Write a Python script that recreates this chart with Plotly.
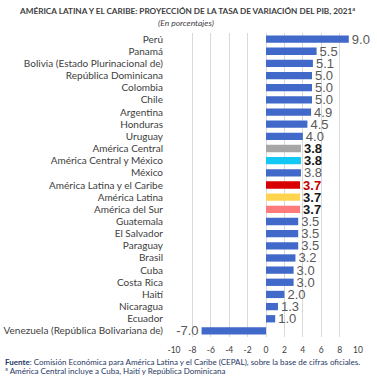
import plotly.graph_objects as go

categories = ["Perú", "Panamá", "Bolivia (Estado Plurinacional de)", "República Dominicana",
              "Colombia", "Chile", "Argentina", "Honduras", "Uruguay", "América Central",
              "América Central y México", "México", "América Latina y el Caribe", "América Latina",
              "América del Sur", "Guatemala", "El Salvador", "Paraguay", "Brasil", "Cuba",
              "Costa Rica", "Haití", "Nicaragua", "Ecuador", "Venezuela (República Bolivariana de)"]
values = [9.0, 5.5, 5.1, 5.0, 5.0, 5.0, 4.9, 4.5, 4.0, 3.8, 3.8, 3.8, 3.7, 3.7, 3.7,
          3.5, 3.5, 3.5, 3.2, 3.0, 3.0, 2.0, 1.3, 1.0, -7.0]
x_ticks = [-10, -8, -6, -4, -2, 0, 2, 4, 6, 8, 10]

BLUE = "#4169C9"
special = {
    "América Central": ("#A6A6A6", "#1a1a1a"),
    "América Central y México": ("#14C8F5", "#1a1a1a"),
    "América Latina y el Caribe": ("#D80000", "#C00000"),
    "América Latina": ("#FFD54F", "#1a1a1a"),
    "América del Sur": ("#FF7B7B", "#1a1a1a"),
}
colors, tcolors, texts = [], [], []
for c, v in zip(categories, values):
    if c in special:
        col, tc = special[c]
        colors.append(col)
        tcolors.append(tc)
        texts.append(f"<b>{v:.1f}</b>")
    else:
        colors.append(BLUE)
        tcolors.append("#595959")
        texts.append(f"{v:.1f}")

W, H = 377, 376
l, r, t, b = 174, 19, 33, 39
pw, ph = W - l - r, H - t - b
def px(x): return (x - l) / pw
def py(y): return (H - b - y) / ph

fig = go.Figure(go.Bar(
    y=categories, x=values, orientation="h",
    marker=dict(color=colors, line=dict(width=0)),
    width=0.6,
    text=texts, textposition="outside", cliponaxis=False, constraintext="none",
    textfont=dict(color=tcolors, size=13, family="Liberation Sans"),
))

fig.update_layout(
    width=W, height=H,
    margin=dict(l=l, r=r, t=t, b=b, autoexpand=False),
    paper_bgcolor="white", plot_bgcolor="white",
    showlegend=False,
    font=dict(family="Lato", color="#404040"),
    xaxis=dict(range=[-10, 10], tickvals=x_ticks, ticktext=[str(v) for v in x_ticks],
               showgrid=True, gridcolor="#D9D9D9", gridwidth=1, zeroline=False,
               tickfont=dict(size=8.5, color="#404040", family="Lato"), ticks="",
               showline=False, fixedrange=True, automargin=False, ticklabelstandoff=6),
    yaxis=dict(autorange="reversed", tickfont=dict(size=10, color="#404040", family="Lato"),
               ticks="", showline=False, showgrid=False, ticklabelstandoff=10,
               automargin=False),
    annotations=[
        dict(text="<b>AMÉRICA LATINA Y EL CARIBE: PROYECCIÓN DE LA TASA DE VARIACIÓN DEL PIB, 2021<sup>a</sup></b>",
             x=px(187), y=py(10), xref="paper", yref="paper", showarrow=False,
             xanchor="center", yanchor="middle",
             font=dict(size=8.2, color="#404040", family="Liberation Sans Narrow, Lato")),
        dict(text="<i>(En porcentajes)</i>",
             x=px(186), y=py(23), xref="paper", yref="paper", showarrow=False,
             xanchor="center", yanchor="middle",
             font=dict(size=8.5, color="#404040", family="Lato")),
        dict(text="<b>Fuente</b>: Comisión Económica para América Latina y el Caribe (CEPAL), sobre la base de cifras oficiales.",
             x=px(3), y=py(362), xref="paper", yref="paper", showarrow=False,
             xanchor="left", yanchor="middle",
             font=dict(size=8, color="#1F3864", family="Lato")),
        dict(text="ª América Central incluye a Cuba, Haití y República Dominicana",
             x=px(3), y=py(371), xref="paper", yref="paper", showarrow=False,
             xanchor="left", yanchor="middle",
             font=dict(size=8, color="#1F3864", family="Lato")),
    ],
)

fig.write_html("out.html", config={"displayModeBar": False},
               post_script="document.body.style.margin='0';document.body.style.padding='0';")
